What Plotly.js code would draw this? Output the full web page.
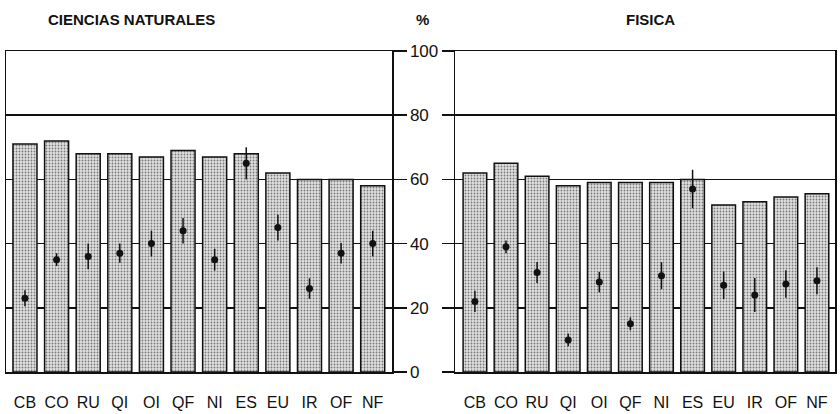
<!DOCTYPE html>
<html>
<head>
<meta charset="utf-8">
<script src="https://cdn.plot.ly/plotly-3.0.1.min.js"></script>
<style>html,body{margin:0;padding:0;background:#fff;}#chart{width:840px;height:414px;}</style>
</head>
<body>
<div id="chart"></div>
<script>
const categories = ["CB","CO","RU","QI","OI","QF","NI","ES","EU","IR","OF","NF"];

// CIENCIAS NATURALES
const cnBars   = [71, 72, 68, 68, 67, 69, 67, 68, 62, 60, 60, 58];
const cnPoints = [23, 35, 36, 37, 40, 44, 35, 65, 45, 26, 37, 40];
const cnErr    = [2.5, 2, 4, 3, 4, 4, 3.4, 5, 4, 3.2, 3.2, 4];

// FISICA
const fiBars   = [62, 65, 61, 58, 59, 59, 59, 60, 52, 53, 54.5, 55.5];
const fiPoints = [22, 39, 31, 10, 28, 15, 30, 57, 27, 24, 27.4, 28.4];
const fiErr    = [3.3, 2, 3.3, 2, 3.2, 2, 4.2, 6, 4.3, 5.3, 4.3, 4.2];

const yTicks = [0, 20, 40, 60, 80, 100];

const barMarker = {
  color: '#d6d6d6',
  line: {color: '#111', width: 1.5},
  pattern: {shape: '.', fgcolor: '#7a7a7a', bgcolor: '#e0e0e0', size: 3, solidity: 0.3}
};
const ptMarker = {color: '#111', size: 7, symbol: 'circle'};
function err(arr){ return {type: 'data', array: arr, visible: true, width: 0, thickness: 1.5, color: '#111'}; }

const idx = categories.map((c, i) => i);

const traces = [
  {type: 'bar', x: idx, y: cnBars, width: 0.76, marker: barMarker, xaxis: 'x', yaxis: 'y', hoverinfo: 'skip'},
  {type: 'scatter', mode: 'markers', x: idx, y: cnPoints, error_y: err(cnErr), marker: ptMarker, xaxis: 'x', yaxis: 'y'},
  {type: 'bar', x: idx, y: fiBars, width: 0.76, marker: barMarker, xaxis: 'x2', yaxis: 'y2', hoverinfo: 'skip'},
  {type: 'scatter', mode: 'markers', x: idx, y: fiPoints, error_y: err(fiErr), marker: ptMarker, xaxis: 'x2', yaxis: 'y2'}
];

const fontTxt = {family: '"Liberation Sans", Arial, sans-serif', color: '#111'};
const yDom = [42/414, 363/414];

const xCommon = {
  tickmode: 'array', tickvals: idx, ticktext: categories,
  showgrid: false, zeroline: false,
  showline: true, linecolor: '#111', linewidth: 1.5, mirror: true,
  ticks: 'outside', ticklen: 15, tickcolor: 'rgba(0,0,0,0)',
  tickfont: Object.assign({size: 16}, fontTxt),
  fixedrange: true
};
const yCommon = {
  range: [0, 100], tickmode: 'array', tickvals: yTicks,
  showgrid: true, gridcolor: '#111', gridwidth: 1.5,
  zeroline: false, showline: true, linecolor: '#111', linewidth: 1.5, mirror: true,
  ticks: 'outside', tickcolor: '#111', tickwidth: 1.5,
  domain: yDom, fixedrange: true
};

const layout = {
  width: 840, height: 414,
  margin: {l: 0, r: 0, t: 0, b: 0},
  paper_bgcolor: '#fff', plot_bgcolor: '#fff',
  showlegend: false,
  xaxis: Object.assign({}, xCommon, {domain: [6/840, 392/840], range: [-0.6, 11.61], anchor: 'y'}),
  yaxis: Object.assign({}, yCommon, {anchor: 'x', side: 'right', ticklen: 13, showticklabels: true,
    tickfont: Object.assign({size: 17}, fontTxt)}),
  xaxis2: Object.assign({}, xCommon, {domain: [455/840, 835/840], range: [-0.64, 11.58], anchor: 'y2'}),
  yaxis2: Object.assign({}, yCommon, {anchor: 'x2', side: 'left', ticklen: 12, showticklabels: false}),
  annotations: [
    {text: '<b>CIENCIAS NATURALES</b>', x: 131, y: 20},
    {text: '<b>%</b>', x: 422, y: 20},
    {text: '<b>FISICA</b>', x: 650, y: 20}
  ].map(a => Object.assign(a, {
    xref: 'paper', yref: 'paper', x: a.x / 840, y: 1 - a.y / 414, showarrow: false,
    xanchor: 'center', yanchor: 'middle', font: Object.assign({size: 15}, fontTxt)
  }))
};

Plotly.newPlot('chart', traces, layout, {displayModeBar: false, staticPlot: true});
</script>
</body>
</html>
